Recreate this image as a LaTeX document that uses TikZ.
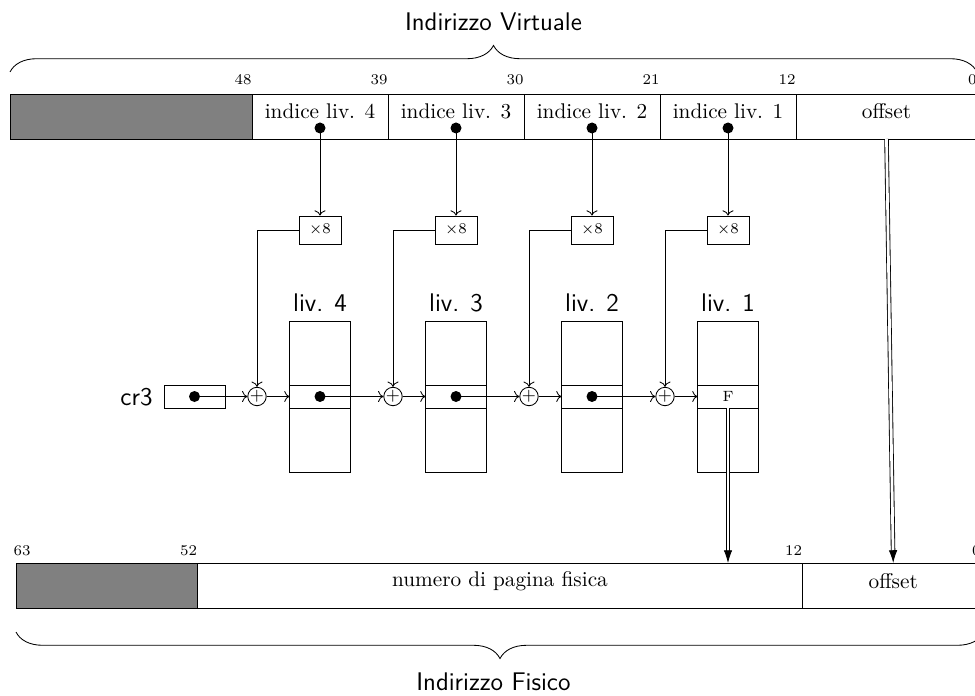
\documentclass[tikz,border=0pt]{standalone}
\usetikzlibrary{arrows.meta,decorations.pathreplacing,calc}
\def\PX{0.4706pt}
\begin{document}
\begin{tikzpicture}[x=0.4706pt,y=-0.4706pt,
  seg/.style={draw, minimum height=45*\PX, inner sep=0pt, outer sep=0pt},
  txt/.style={inner sep=0pt, font=\normalsize},
  num/.style={font=\scriptsize, anchor=base east, inner sep=0pt},
  bigl/.style={font=\sffamily\large, inner sep=0pt},
  dot/.style={circle, fill=black, inner sep=0pt, minimum size=11*\PX},
  mulbox/.style={draw, minimum width=42*\PX, minimum height=28*\PX, inner sep=0pt, font=\scriptsize},
  plus/.style={circle, draw, inner sep=0pt, minimum size=18*\PX, font=\footnotesize},
  tabpart/.style={draw, minimum width=61*\PX, minimum height=64*\PX, inner sep=0pt, outer sep=0pt},
  tabrow/.style={draw, minimum width=61*\PX, minimum height=23*\PX, inner sep=0pt, outer sep=0pt, font=\scriptsize},
  conn/.style={->},
  dbl/.style={double, double distance=1.3pt, -{Latex[length=6pt,width=4pt]}},
  brc/.style={decorate, decoration={brace, amplitude=12.5pt}}
]
\clip (0,0) rectangle (975,696);
% ---------- virtual address ----------
\node[seg, fill=gray, minimum width=242*\PX] (vg) at (131,116.5) {};
\node[seg, minimum width=136*\PX] (v4) at (320,116.5) {};
\node[seg, minimum width=136*\PX] (v3) at (456,116.5) {};
\node[seg, minimum width=136*\PX] (v2) at (592,116.5) {};
\node[seg, minimum width=136*\PX] (v1) at (728,116.5) {};
\node[seg, minimum width=181*\PX] (voff) at (886.5,116.5) {};
\node[txt] (tv4) at (320,111) {indice liv. 4};
\node[txt] (tv3) at (456,111) {indice liv. 3};
\node[txt] (tv2) at (592,111) {indice liv. 2};
\node[txt] (tv1) at (728,111) {indice liv. 1};
\node[txt] (tvoff) at (886.5,111) {offset};
\node[num] (n48) at (252,85) {48};
\node[num] (n39) at (388,85) {39};
\node[num] (n30) at (524,85) {30};
\node[num] (n21) at (660,85) {21};
\node[num] (n12) at (796,85) {12};
\node[num] (n0) at (977,85) {0};
\draw[brc] (10,72) -- (977,72);
\node[bigl] (lv) at (493.5,22) {Indirizzo Virtuale};
% bullets in index fields
\node[dot] (b4) at (320,128) {};
\node[dot] (b3) at (456,128) {};
\node[dot] (b2) at (592,128) {};
\node[dot] (b1) at (728,128) {};
% x8 boxes
\node[mulbox] (m4) at (320,230) {$\times 8$};
\node[mulbox] (m3) at (456,230) {$\times 8$};
\node[mulbox] (m2) at (592,230) {$\times 8$};
\node[mulbox] (m1) at (728,230) {$\times 8$};
\draw[conn] (b4.center) -- (m4.north);
\draw[conn] (b3.center) -- (m3.north);
\draw[conn] (b2.center) -- (m2.north);
\draw[conn] (b1.center) -- (m1.north);
% adders
\node[plus] (p4) at (257,396.5) {$+$};
\node[plus] (p3) at (393,396.5) {$+$};
\node[plus] (p2) at (529,396.5) {$+$};
\node[plus] (p1) at (665,396.5) {$+$};
\draw[conn] (m4.west) -| (p4.north);
\draw[conn] (m3.west) -| (p3.north);
\draw[conn] (m2.west) -| (p2.north);
\draw[conn] (m1.west) -| (p1.north);
% cr3
\node[tabrow] (cr) at (194.5,396.5) {};
\node[bigl, anchor=east] (lcr) at (153,397) {cr3};
\node[dot] (dcr) at (194.5,396.5) {};
% tables
\foreach \n/\x in {4/320,3/456,2/592,1/728}{
  \node[tabpart] (t\n a) at (\x,353) {};
  \node[tabpart] (t\n b) at (\x,440) {};
  \node[bigl] (l\n) at (\x,303) {liv. \n};
}
\node[tabrow] (t4m) at (320,396.5) {};
\node[tabrow] (t3m) at (456,396.5) {};
\node[tabrow] (t2m) at (592,396.5) {};
\node[tabrow] (t1m) at (728,396.5) {F};
\node[dot] (d4) at (320,396.5) {};
\node[dot] (d3) at (456,396.5) {};
\node[dot] (d2) at (592,396.5) {};
\draw[conn] (dcr.center) -- (p4.west);
\draw[conn] (p4.east) -- (t4m.west);
\draw[conn] (d4.center) -- (p3.west);
\draw[conn] (p3.east) -- (t3m.west);
\draw[conn] (d3.center) -- (p2.west);
\draw[conn] (p2.east) -- (t2m.west);
\draw[conn] (d2.center) -- (p1.west);
\draw[conn] (p1.east) -- (t1m.west);
% ---------- physical address ----------
\node[seg, fill=gray, minimum width=181.5*\PX] (pg) at (106.75,585.5) {};
\node[seg, minimum width=605*\PX] (pnum) at (500,585.5) {};
\node[seg, minimum width=181.5*\PX] (poff) at (893.25,585.5) {};
\node[txt] (tpnum) at (500,581) {numero di pagina fisica};
\node[txt] (tpoff) at (893.25,581) {offset};
\node[num] (n63) at (31,555) {63};
\node[num] (n52) at (197.5,555) {52};
\node[num] (n12b) at (802.5,555) {12};
\node[num] (n0b) at (981,555) {0};
\draw[brc, decoration={mirror}] (16,632) -- (984,632);
\node[bigl] (lp) at (493.5,682) {Indirizzo Fisico};
% double arrows
\draw[dbl] (t1m.south) -- (t1m.south |- pnum.north);
\draw[dbl] (voff.south) -- (poff.north);
\end{tikzpicture}
\end{document}
